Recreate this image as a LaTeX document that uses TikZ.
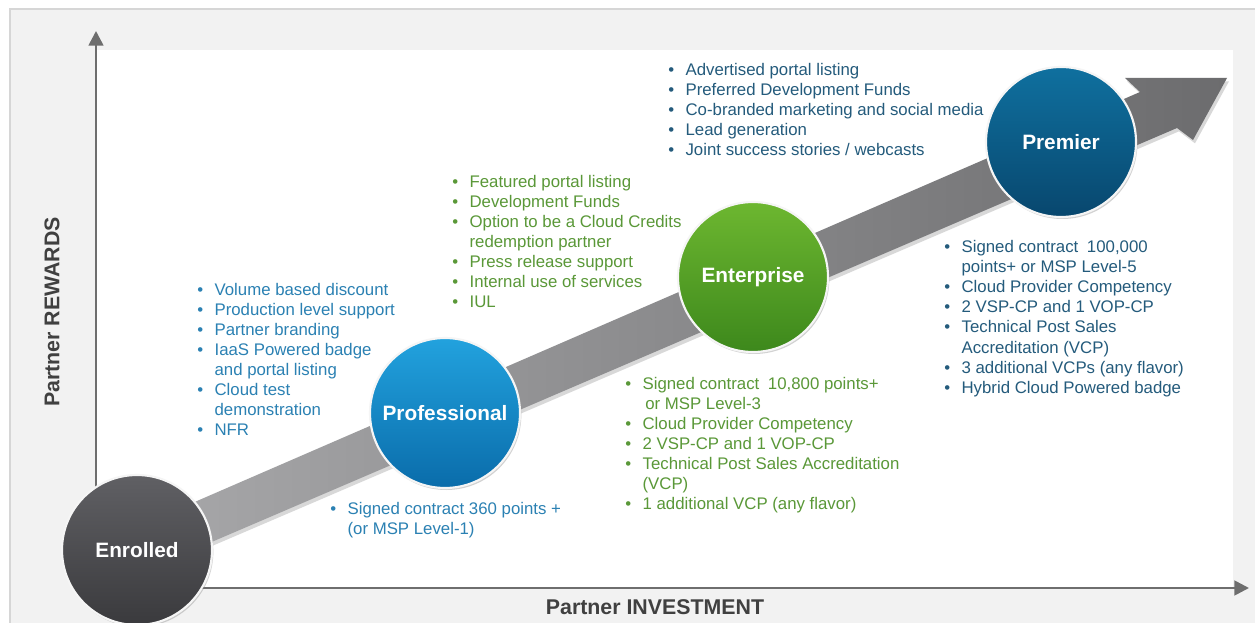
\documentclass[tikz,border=0pt]{standalone}
\usepackage{fontspec}
\setmainfont{Liberation Sans}
\usetikzlibrary{shadows,arrows.meta}
\definecolor{bgc}{HTML}{F2F2F2}
\definecolor{framec}{HTML}{D6D6D6}
\definecolor{axisc}{HTML}{6E6E6E}
\definecolor{labc}{HTML}{404040}
\definecolor{bluetxt}{HTML}{2B81B3}
\definecolor{greentxt}{HTML}{5A9838}
\definecolor{darktxt}{HTML}{245B7C}
\definecolor{arrL}{HTML}{A8A8AA}
\definecolor{arrR}{HTML}{6C6C6E}
\definecolor{enrT}{HTML}{606064}
\definecolor{enrB}{HTML}{3A3A3D}
\definecolor{proT}{HTML}{22A2DE}
\definecolor{proB}{HTML}{0A6CAA}
\definecolor{entT}{HTML}{6DB730}
\definecolor{entB}{HTML}{3D881C}
\definecolor{preT}{HTML}{0F709F}
\definecolor{preB}{HTML}{08476E}
\newcommand\bullist[1]{\begin{tabular}[t]{@{}p{13pt}@{}l@{}}#1\end{tabular}}
\newcommand\bu{\textbullet}
\begin{document}
\begin{tikzpicture}[x=0.75pt,y=-0.75pt,
  axis/.style={draw=axisc, line width=2pt, -{Triangle[length=11pt,width=11pt]}},
  axlabel/.style={text=labc, font=\fontsize{16}{19}\selectfont\bfseries, inner sep=0pt},
  tier/.style={circle, minimum size=112.5pt, inner sep=0pt, draw=white!92!gray,
    line width=1.6pt, text=white, font=\fontsize{15.6}{18}\selectfont\bfseries,
    drop shadow={opacity=0.35, shadow xshift=1pt, shadow yshift=-1.5pt}},
  lst/.style={anchor=base west, inner sep=0pt, font=\fontsize{12.6}{15}\selectfont},
  bigarrow/.style={left color=arrL, right color=arrR,
    drop shadow={opacity=0.3, shadow xshift=1.5pt, shadow yshift=-2.5pt}}
]
\useasboundingbox (0,0) rectangle (1255,623);
% background
\fill[white] (0,0) rectangle (1255,623);
\fill[bgc] (10,9) rectangle (1256,624);
\draw[framec, line width=0.8pt] (10,624) -- (10,9) -- (1256,9);
\fill[white] (96,50) rectangle (1233,588);
% axes
\coordinate (O) at (96,588);
\coordinate (Ytop) at (96,31);
\coordinate (Xend) at (1249,588);
\draw[axis] (O) -- (Ytop);
\draw[axis] (O) -- (Xend);
\node[axlabel, rotate=90] (ylab) at (52,312) {Partner REWARDS};
\node[axlabel] (xlab) at (655,607) {Partner INVESTMENT};
% big arrow
\coordinate (tailU) at (137,527);
\coordinate (joinU) at (1140,92);
\coordinate (barbU) at (1125,78);
\coordinate (tip) at (1227,78);
\coordinate (barbL) at (1193,140);
\coordinate (joinL) at (1177,128);
\coordinate (tailL) at (137,574);
\path[bigarrow] (tailU) -- (joinU) -- (barbU) -- (tip) -- (barbL) -- (joinL) -- (tailL) -- cycle;
% tiers
\node[tier, top color=enrT, bottom color=enrB] (enr) at (137,550) {Enrolled};
\node[tier, top color=proT, bottom color=proB] (pro) at (445,413) {Professional};
\node[tier, top color=entT, bottom color=entB] (ent) at (753,277) {Enterprise};
\node[tier, top color=preT, bottom color=preB] (pre) at (1061,142) {Premier};
% lists
\node[lst, text=bluetxt] (l1) at (197,296) {\bullist{%
\bu & Volume based discount\\
\bu & Production level support\\
\bu & Partner branding\\
\bu & IaaS Powered badge\\
    & and portal listing\\
\bu & Cloud test\\
    & demonstration\\
\bu & NFR}};
\node[lst, text=bluetxt] (l2) at (330,514) {\bullist{%
\bu & Signed contract 360 points +\\
    & (or MSP Level-1)}};
\node[lst, text=greentxt] (l3) at (452,188) {\bullist{%
\bu & Featured portal listing\\
\bu & Development Funds\\
\bu & Option to be a Cloud Credits\\
    & redemption partner\\
\bu & Press release support\\
\bu & Internal use of services\\
\bu & IUL}};
\node[lst, text=greentxt] (l4) at (625,389) {\bullist{%
\bu & Signed contract\hspace{3pt} 10,800 points+\\
    & \hspace{2pt}or MSP Level-3\\
\bu & Cloud Provider Competency\\
\bu & 2 VSP-CP and 1 VOP-CP\\
\bu & Technical Post Sales Accreditation\\
    & (VCP)\\
\bu & 1 additional VCP (any flavor)}};
\node[lst, text=darktxt] (l5) at (668,76) {\bullist{%
\bu & Advertised portal listing\\
\bu & Preferred Development Funds\\
\bu & Co-branded marketing and social media\\
\bu & Lead generation\\
\bu & Joint success stories / webcasts}};
\node[lst, text=darktxt] (l6) at (944,253) {\bullist{%
\bu & Signed contract\hspace{3pt} 100,000\\
    & points+ or MSP Level-5\\
\bu & Cloud Provider Competency\\
\bu & 2 VSP-CP and 1 VOP-CP\\
\bu & Technical Post Sales\\
    & Accreditation (VCP)\\
\bu & 3 additional VCPs (any flavor)\\
\bu & Hybrid Cloud Powered badge}};
\end{tikzpicture}
\end{document}
